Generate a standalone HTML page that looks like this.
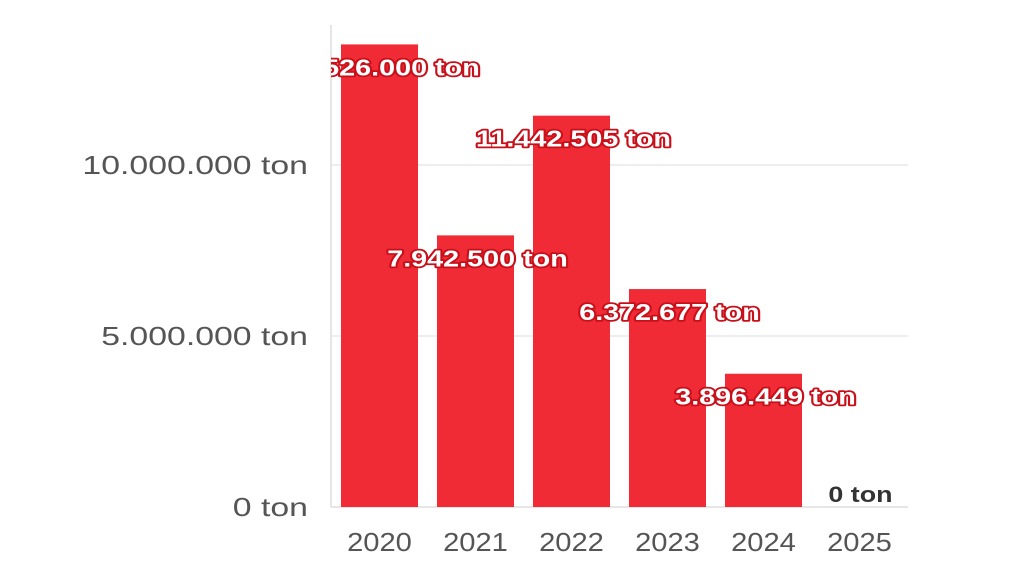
<!DOCTYPE html>
<html><head><meta charset="utf-8"><style>
body{margin:0;background:#fff;width:1024px;height:579px;overflow:hidden}
svg{font-family:"Liberation Sans",sans-serif}
</style></head><body>
<svg id="c" width="1024" height="579">
<defs><clipPath id="pc"><rect x="331" y="0" width="600" height="579"/></clipPath></defs>
</svg>
<script>
const categories=["2020","2021","2022","2023","2024","2025"];
const values=[13526000,7942500,11442505,6372677,3896449,0];
const valueLabels=["13.526.000 ton","7.942.500 ton","11.442.505 ton","6.372.677 ton","3.896.449 ton","0 ton"];
const yTicks=[0,5000000,10000000];
const yTickLabels=["0 ton","5.000.000 ton","10.000.000 ton"];
const NS="http://www.w3.org/2000/svg";
const svg=document.getElementById('c');
const y=v=>507-v/5000000*171;
const x0=331,band=96,bw=77;
const xc=i=>x0+10+bw/2+i*band;
function el(t,a,p){const e=document.createElementNS(NS,t);for(const k in a)e.setAttribute(k,a[k]);(p||svg).appendChild(e);return e;}
function widen(t,f){const w=t.getComputedTextLength();t.setAttribute('textLength',w*f);t.setAttribute('lengthAdjust','spacingAndGlyphs');}
yTicks.forEach((t,i)=>{
 if(t>0){const g=el('line',{x1:331,x2:908,y1:y(t),y2:y(t),stroke:'#e8e8e8','stroke-width':1.5});
 
 }
 const tx=el('text',{x:308,y:y(t)+9,'text-anchor':'end','font-size':26,fill:'#555'});
 tx.textContent=yTickLabels[i];
 
 
 widen(tx,1.3);
});
const ax=el('line',{x1:331,x2:331,y1:25,y2:507,stroke:'#ddd','stroke-width':1.5});


const bl=el('line',{x1:331,x2:908,y1:507,y2:507,stroke:'#ddd','stroke-width':1.5});


categories.forEach((c,i)=>{
 const v=values[i];
 if(v>0){const r=el('rect',{x:xc(i)-bw/2,y:y(v),width:bw,height:507-y(v),fill:'#f02b36'});
 
 }
 const t=el('text',{x:xc(i),y:551,'text-anchor':'middle','font-size':26,fill:'#555'});
 t.textContent=c;
 
 
 widen(t,1.12);
});
const lg=el('g',{'clip-path':'url(#pc)'});
categories.forEach((c,i)=>{
 const v=values[i];
 let l;
 if(v>0){l=el('text',{x:xc(i)+2,y:y(v)+31,'text-anchor':'middle','font-size':23,'font-weight':'bold',fill:'#fff',stroke:'#c8101a','stroke-width':3.5,'paint-order':'stroke','stroke-linejoin':'round'},lg);}
 else{l=el('text',{x:xc(i)+1,y:502,'text-anchor':'middle','font-size':22,'font-weight':'bold',fill:'#333'},lg);}
 l.textContent=valueLabels[i];
 
 
 widen(l,v>0?1.25:1.22);
});
</script>
</body></html>
